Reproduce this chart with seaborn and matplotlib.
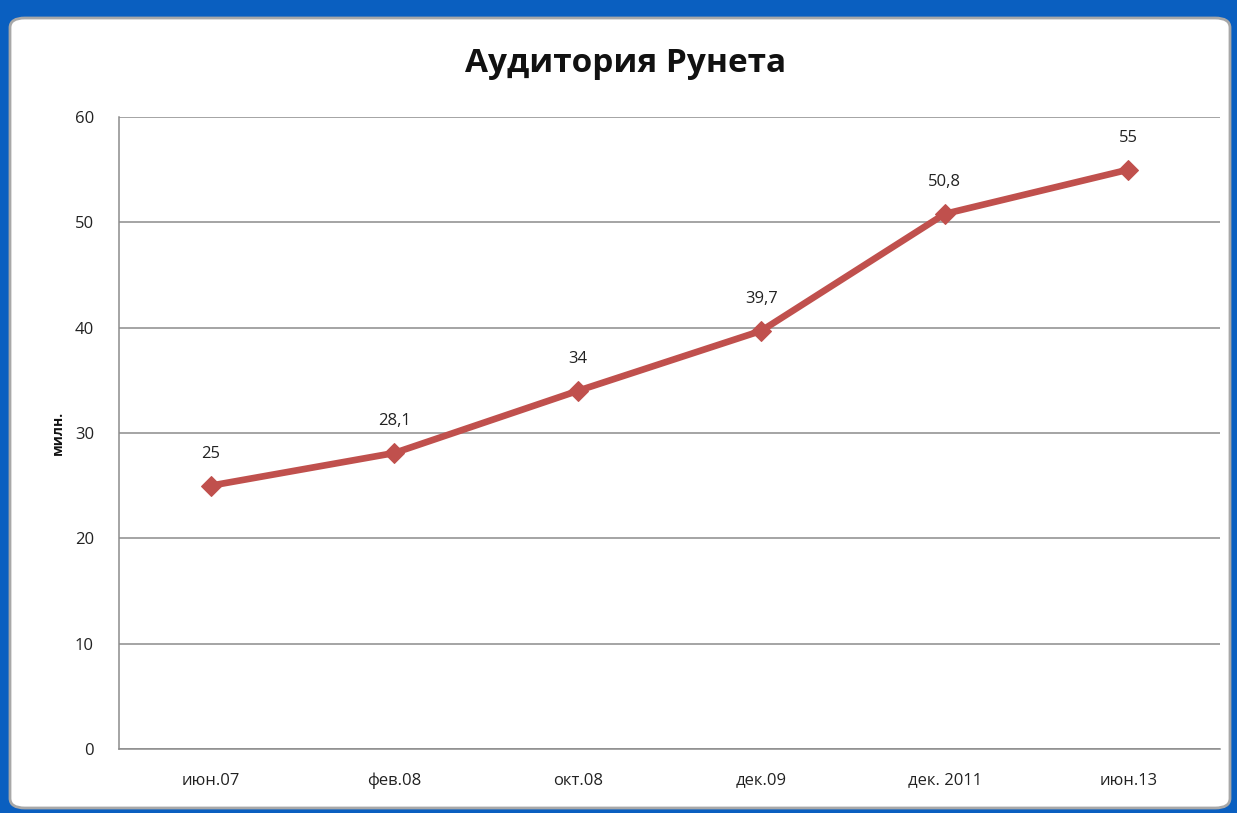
import matplotlib
matplotlib.use("Agg")
import matplotlib.pyplot as plt
from matplotlib.patches import FancyBboxPatch
import seaborn as sns
import pandas as pd

# Audience of the Russian internet, millions of users
periods = ["июн.07", "фев.08", "окт.08", "дек.09", "дек. 2011", "июн.13"]
audience = [25, 28.1, 34, 39.7, 50.8, 55]
value_labels = ["25", "28,1", "34", "39,7", "50,8", "55"]
y_ticks = [0, 10, 20, 30, 40, 50, 60]

df = pd.DataFrame({"period": periods, "audience": audience})

sns.set_theme(style="white")
plt.rcParams["font.family"] = ["Open Sans", "DejaVu Sans"]

fig = plt.figure(figsize=(12.37, 8.13), dpi=100)
fig.patch.set_facecolor("#0a5fc0")

# white chart panel with a thin grey frame, kept behind the axes
panel = FancyBboxPatch((10 / 1237, 5 / 813), 1220 / 1237, 790 / 813,
                       boxstyle="round,pad=0,rounding_size=0.012",
                       transform=fig.transFigure, facecolor="white",
                       edgecolor="#a8a8a8", linewidth=2, zorder=-5)
fig.patches.append(panel)

ax = fig.add_axes([119 / 1237, 1 - 749 / 813, (1220 - 119) / 1237, (749 - 117) / 813])
ax.set_zorder(1)
ax.set_facecolor("white")

sns.lineplot(data=df, x="period", y="audience", ax=ax, color="#c0504d",
             linewidth=4.8, marker="D", markersize=10, markeredgecolor="#c0504d",
             sort=False, zorder=3)

for i, (v, lab) in enumerate(zip(audience, value_labels)):
    ax.annotate(lab, (i, v), xytext=(0, 17), textcoords="offset points",
                ha="center", va="bottom", fontsize=12, color="#222222")

ax.set_xlim(-0.5, len(periods) - 0.5)
ax.set_ylim(0, 60)
ax.set_yticks(y_ticks)
ax.yaxis.grid(True, color="#8c8c8c", linewidth=1.1)
ax.set_axisbelow(True)
for side in ["top", "right"]:
    ax.spines[side].set_visible(False)
for side in ["left", "bottom"]:
    ax.spines[side].set_color("#8c8c8c")
    ax.spines[side].set_linewidth(1.1)

ax.tick_params(axis="both", which="both", length=0, labelsize=12,
               colors="#222222")
ax.tick_params(axis="y", pad=18)
ax.tick_params(axis="x", pad=17)
ax.set_xlabel("")
ax.set_ylabel("милн.", fontsize=10, fontweight="bold", labelpad=7, color="#111111")

fig.text(626 / 1237, 1 - 64 / 813, "Аудитория Рунета", ha="center", va="center",
         fontsize=24, fontweight="bold", color="#111111")

fig.savefig("out.png", dpi=100, facecolor=fig.get_facecolor())
